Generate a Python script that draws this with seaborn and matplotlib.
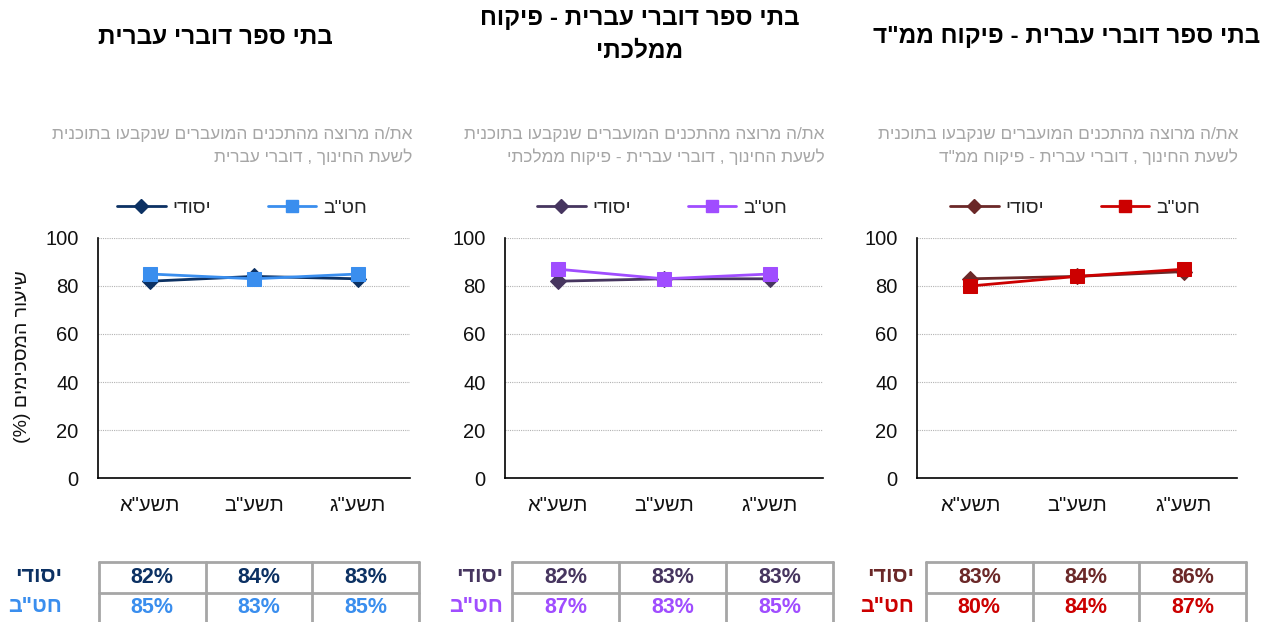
import matplotlib
matplotlib.use("Agg")
import matplotlib.pyplot as plt
from matplotlib.lines import Line2D
import seaborn as sns
import pandas as pd

sns.set_theme(style="white")
plt.rcParams["font.family"] = ["Liberation Sans", "DejaVu Sans"]


def rtl(s):
    """Hebrew text in visual (left-to-right) order for matplotlib."""
    return s[::-1].translate(str.maketrans("()", ")("))


# ---- data ----
years = ["תשע\"א", "תשע\"ב", "תשע\"ג"]
series_names = ["יסודי", "חט\"ב"]

titles = [
    ["בתי ספר דוברי עברית"],
    ["בתי ספר דוברי עברית - פיקוח", "ממלכתי"],
    ["בתי ספר דוברי עברית - פיקוח ממ\"ד"],
]
subtitles = [
    ["את/ה מרוצה מהתכנים המועברים שנקבעו בתוכנית", "לשעת החינוך , דוברי עברית"],
    ["את/ה מרוצה מהתכנים המועברים שנקבעו בתוכנית", "לשעת החינוך , דוברי עברית - פיקוח ממלכתי"],
    ["את/ה מרוצה מהתכנים המועברים שנקבעו בתוכנית", "לשעת החינוך , דוברי עברית - פיקוח ממ\"ד"],
]
ylabel = "שיעור המסכימים (%)"

yesodi_all = [82, 84, 83]
hatav_all = [85, 83, 85]
yesodi_mamlachti = [82, 83, 83]
hatav_mamlachti = [87, 83, 85]
yesodi_mamad = [83, 84, 86]
hatav_mamad = [80, 84, 87]

yesodi_colors = ["#0c3163", "#46355f", "#6b2828"]
hatav_colors = ["#3a8eee", "#a04dff", "#cc0000"]

panels = [
    (yesodi_all, hatav_all),
    (yesodi_mamlachti, hatav_mamlachti),
    (yesodi_mamad, hatav_mamad),
]

# ---- layout (pixel geometry of the 1274x622 canvas) ----
W, H = 1274, 622
fig = plt.figure(figsize=(W / 100, H / 100), dpi=100)


def fx(px):
    return px / W


def fy(py):
    return 1 - py / H


axes_x = [(98, 410), (505, 823), (917, 1237)]
plot_top, plot_bottom = 238, 478
title_cx = [215, 640, 1067]
sub_right = [412, 825, 1238]
legend_cx = [242, 662, 1075]
table_x = [(99, 419), (512, 833), (926, 1246)]
rowlabel_right = [62, 503, 914]

grid_color = "#b3b3b3"
tick_color = "#8c8c8c"

for i, (yes_vals, hat_vals) in enumerate(panels):
    x0, x1 = axes_x[i]
    ax = fig.add_axes([fx(x0), fy(plot_bottom), fx(x1 - x0), fy(plot_top) - fy(plot_bottom)])

    df = pd.DataFrame({"year": years, "yesodi": yes_vals, "hatav": hat_vals})
    sns.lineplot(data=df, x="year", y="yesodi", ax=ax, color=yesodi_colors[i],
                 marker="D", markersize=8, markeredgecolor=yesodi_colors[i],
                 linewidth=2, sort=False, zorder=3)
    sns.lineplot(data=df, x="year", y="hatav", ax=ax, color=hatav_colors[i],
                 marker="s", markersize=10, markeredgecolor=hatav_colors[i],
                 linewidth=2, sort=False, zorder=4)

    ax.set_xlim(-0.5, 2.5)
    ax.set_ylim(0, 100)
    ax.set_yticks([0, 20, 40, 60, 80, 100])
    ax.set_xticks([0, 1, 2])
    ax.set_xticklabels([rtl(y) for y in years], fontsize=14.5, color="#111111")
    ax.set_xticks([-0.5, 0.5, 1.5, 2.5], minor=True)
    ax.tick_params(axis="x", which="major", length=0, pad=13)
    ax.tick_params(axis="x", which="minor", length=6, width=1.2, color=tick_color, direction="out")
    ax.tick_params(axis="y", which="major", length=6, width=1.2, color=tick_color,
                   direction="out", labelsize=14.5, labelcolor="#111111", pad=8)
    ax.set_xlabel("")
    ax.set_ylabel("")
    ax.grid(axis="y", color=grid_color, linestyle=(0, (1, 1)), linewidth=0.8)
    ax.set_axisbelow(True)
    for side in ["top", "right"]:
        ax.spines[side].set_visible(False)
    for side in ["left", "bottom"]:
        ax.spines[side].set_color("black")
        ax.spines[side].set_linewidth(1.2)

    # legend
    handles = [
        Line2D([], [], color=yesodi_colors[i], marker="D", markersize=7, linewidth=2),
        Line2D([], [], color=hatav_colors[i], marker="s", markersize=9, linewidth=2),
    ]
    ax.legend(handles, [rtl(n) for n in series_names], ncol=2, frameon=False,
              loc="center", bbox_to_anchor=(fx(legend_cx[i]), fy(208)),
              bbox_transform=fig.transFigure, fontsize=14, handlelength=2.5,
              handletextpad=0.35, columnspacing=2.9)

    # titles
    lines = titles[i]
    if len(lines) == 1:
        fig.text(fx(title_cx[i]), fy(37), rtl(lines[0]), ha="center", va="center",
                 fontsize=17.5, fontweight="bold", color="black")
    else:
        fig.text(fx(title_cx[i]), fy(18), rtl(lines[0]), ha="center", va="center",
                 fontsize=17.5, fontweight="bold", color="black")
        fig.text(fx(title_cx[i]), fy(51), rtl(lines[1]), ha="center", va="center",
                 fontsize=17.5, fontweight="bold", color="black")

    # subtitle
    for k, line in enumerate(subtitles[i]):
        fig.text(fx(sub_right[i]), fy(135 + 22 * k), rtl(line), ha="right", va="center",
                 fontsize=12.4, color="#a6a6a6")

    # value table
    tx0, tx1 = table_x[i]
    tax = fig.add_axes([fx(tx0), fy(623), fx(tx1 - tx0), fy(562) - fy(623)])
    tax.set_xlim(0, 3)
    tax.set_ylim(0, 2)
    tax.axis("off")
    border = "#a6a6a6"
    tax.plot([0, 3], [2, 2], color=border, linewidth=2, clip_on=False)
    tax.plot([0, 3], [1, 1], color=border, linewidth=2, clip_on=False)
    for c in range(4):
        tax.plot([c, c], [0, 2], color=border, linewidth=2, clip_on=False)
    for c in range(3):
        tax.text(c + 0.5, 1.5, f"{yes_vals[c]}%", ha="center", va="center",
                 fontsize=15.5, fontweight="bold", color=yesodi_colors[i])
        tax.text(c + 0.5, 0.5, f"{hat_vals[c]}%", ha="center", va="center",
                 fontsize=15.5, fontweight="bold", color=hatav_colors[i])
    fig.text(fx(rowlabel_right[i]), fy(577), rtl(series_names[0]), ha="right", va="center",
             fontsize=15.5, fontweight="bold", color=yesodi_colors[i])
    fig.text(fx(rowlabel_right[i]), fy(606), rtl(series_names[1]), ha="right", va="center",
             fontsize=15.5, fontweight="bold", color=hatav_colors[i])

# shared y-axis label
fig.text(fx(23), fy(357), rtl(ylabel), rotation=90, ha="center", va="center",
         fontsize=14, color="#111111")

fig.savefig("out.png", dpi=100, facecolor="white")
